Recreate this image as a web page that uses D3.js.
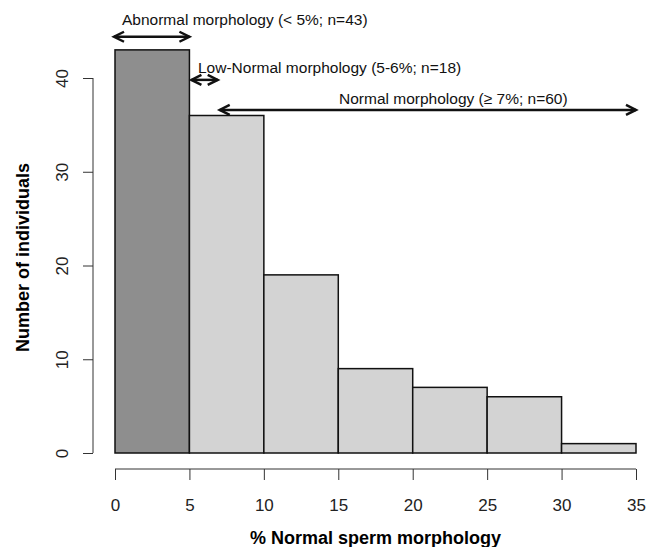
<!DOCTYPE html>
<meta charset="utf-8">
<style>
body { margin: 0; background: #fff; font-family: 'Liberation Sans', Arial, sans-serif; }
svg { display: block; }
.tick text { font-size: 17px; fill: #222; font-family: 'Liberation Sans', Arial, sans-serif; }
.axis path, .axis line { stroke: #333; }
</style>
<svg width="655" height="547"></svg>
<script src="https://cdn.jsdelivr.net/npm/d3@7"></script>
<script>
// histogram data
var binStart = [0, 5, 10, 15, 20, 25, 30];
var binWidth = 5;
var counts = [43, 36, 19, 9, 7, 6, 1];
var xTicks = [0, 5, 10, 15, 20, 25, 30, 35];
var yTicks = [0, 10, 20, 30, 40];

// annotation arrows (data units)
var arrowLabels = ["Abnormal morphology (< 5%; n=43)", "Low-Normal morphology (5-6%; n=18)", "Normal morphology (\u2265 7%; n=60)"];
var arrowFrom = [0, 5, 6.9];
var arrowTo = [5, 6.9, 35];
var arrowLevel = [44.4, 39.8, 36.6];

var svg = d3.select("svg");

var x = d3.scaleLinear().domain([0, 35]).range([115, 636]);
var y = d3.scaleLinear().domain([0, 40]).range([453, 78]);

// bars
svg.append("g").selectAll("rect")
    .data(counts)
  .enter().append("rect")
    .attr("x", function(d, i) { return x(binStart[i]); })
    .attr("width", function(d, i) { return x(binStart[i] + binWidth) - x(binStart[i]); })
    .attr("y", function(d) { return y(d); })
    .attr("height", function(d) { return y(0) - y(d); })
    .attr("fill", function(d, i) { return i == 0 ? "#8e8e8e" : "#d3d3d3"; })
    .attr("stroke", "#111")
    .attr("stroke-width", 1.5);

// axes, R style (detached)
var xAxis = svg.append("g")
    .attr("class", "axis")
    .attr("transform", "translate(0,469)")
    .call(d3.axisBottom(x).tickValues(xTicks).tickSize(11).tickPadding(20).tickSizeOuter(0));
xAxis.select(".domain").attr("d", "M" + x(0) + ",0H" + x(35));
xAxis.selectAll(".tick text").attr("dy", "0.71em").attr("y", 30);

var yAxis = svg.append("g")
    .attr("class", "axis")
    .attr("transform", "translate(93,0)")
    .call(d3.axisLeft(y).tickValues(yTicks).tickSize(10).tickPadding(0).tickSizeOuter(0));
yAxis.select(".domain").attr("d", "M0," + y(0) + "V" + y(40));
yAxis.selectAll(".tick text")
    .attr("text-anchor", "middle")
    .attr("transform", "translate(-31,0) rotate(-90)")
    .attr("x", 0)
    .attr("dy", "0.35em");

// axis titles
svg.append("text")
    .attr("x", x(17.5))
    .attr("y", 544)
    .attr("text-anchor", "middle")
    .style("font-weight", "bold")
    .style("font-size", "18px")
    .text("% Normal sperm morphology");

svg.append("text")
    .attr("transform", "translate(29," + (y(20) - 8) + ") rotate(-90)")
    .attr("text-anchor", "middle")
    .style("font-weight", "bold")
    .style("font-size", "18px")
    .text("Number of individuals");

// arrows
function head(g, px, py, dir) {
  g.append("path")
      .attr("d", "M" + (px - dir * 10) + "," + (py - 5) + "L" + px + "," + py + "L" + (px - dir * 10) + "," + (py + 5))
      .attr("fill", "none")
      .attr("stroke", "#111")
      .attr("stroke-width", 2.5);
}

var ag = svg.append("g");
arrowLabels.forEach(function(lab, i) {
  var x1 = x(arrowFrom[i]) + (i == 0 ? -1 : 2), x2 = x(arrowTo[i]), py = y(arrowLevel[i]);
  ag.append("line")
      .attr("x1", x1).attr("x2", x2)
      .attr("y1", py).attr("y2", py)
      .attr("stroke", "#111")
      .attr("stroke-width", 2.5);
  head(ag, x1, py, -1);
  head(ag, x2, py, 1);
});

// labels
var labX = [122, 198, 339];
var labY = [25, 73, 104];
ag.selectAll("text.lab")
    .data(arrowLabels)
  .enter().append("text")
    .attr("class", "lab")
    .attr("x", function(d, i) { return labX[i]; })
    .attr("y", function(d, i) { return labY[i]; })
    .style("font-size", "15.5px")
    .attr("fill", "#111")
    .text(function(d) { return d; });
</script>
